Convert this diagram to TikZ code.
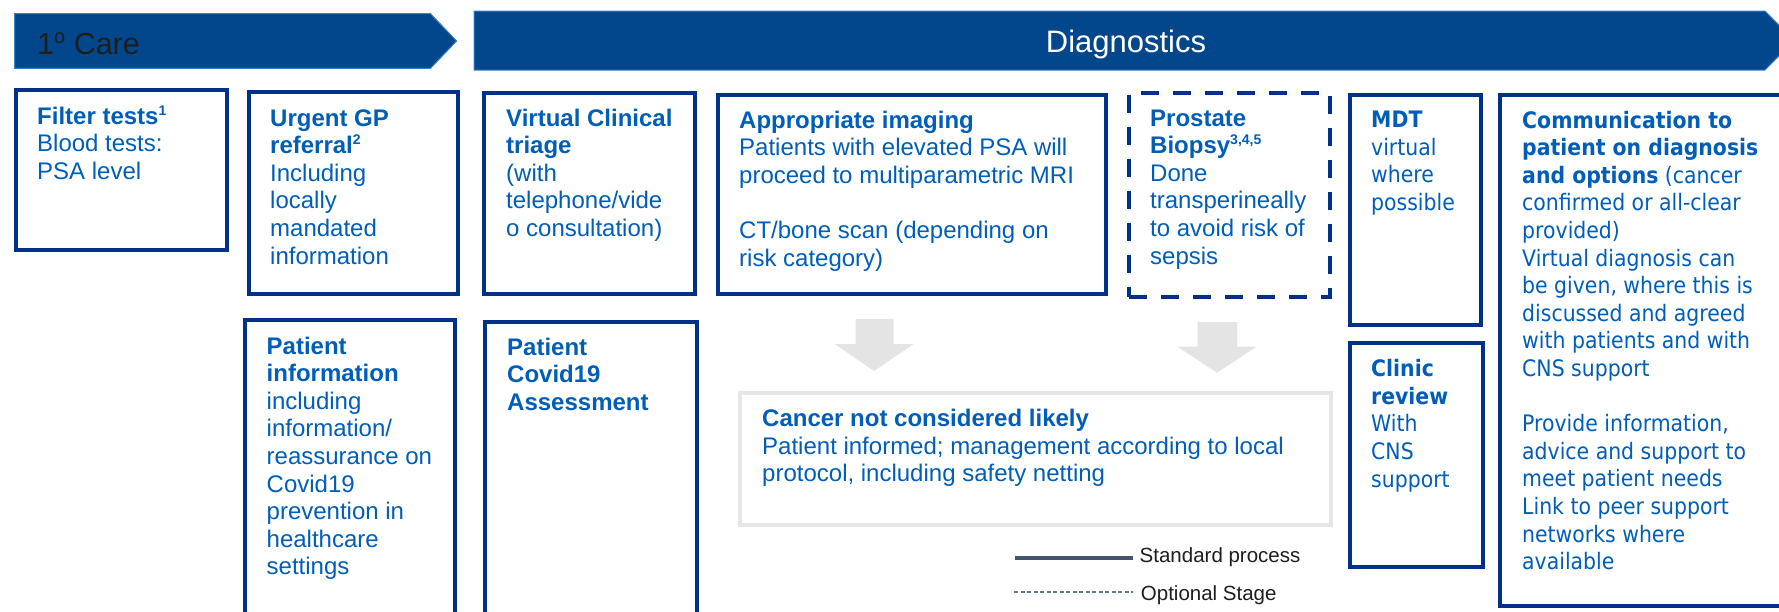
\documentclass[tikz,border=0pt]{standalone}
\usepackage{fontspec}
\setmainfont{Liberation Sans}
\newfontfamily\tah[FakeStretch=0.9]{DejaVu Sans}
\usetikzlibrary{fit}
\definecolor{banner}{HTML}{02478B}
\definecolor{bannerline}{HTML}{3C7DC9}
\definecolor{navy}{HTML}{003087}
\definecolor{nhsblue}{HTML}{005EB8}
\definecolor{grayarrow}{HTML}{E4E4E4}
\definecolor{grayline}{HTML}{E6E6E6}
\definecolor{legendline}{HTML}{44546A}
\definecolor{darktext}{HTML}{1E1E1E}
\newcommand{\tl}[1]{\begin{tabular}[t]{@{}l@{}}#1\end{tabular}}
\newcommand{\sups}[1]{\smash{\raisebox{9pt}{\fontsize{14}{14}\selectfont #1}}}
\begin{document}
\begin{tikzpicture}[x=1pt,y=-1pt,
  bannerbox/.style={fill=banner, draw=bannerline, line width=1pt},
  box/.style={draw=navy, line width=4.2pt, fill=white, inner sep=0pt},
  dbox/.style={box, dash pattern=on 18pt off 14pt},
  graybox/.style={draw=grayline, line width=4pt, fill=white, inner sep=0pt},
  txt/.style={inner sep=0pt, anchor=base west, text=nhsblue, font=\fontsize{24}{27.6}\selectfont},
  tahtxt/.style={txt, font=\tah\fontsize{22.7}{27.6}\selectfont},
  legtxt/.style={inner sep=0pt, anchor=base west, text=darktext, font=\fontsize{20.5}{24}\selectfont},
  grayarr/.style={fill=grayarrow},
  legsolid/.style={draw=legendline, line width=3.3pt},
  legdash/.style={draw=legendline!80, line width=1.1pt, dash pattern=on 4pt off 2.5pt}
]
\clip (0,0) rectangle (1779,611);
\fill[white] (0,0) rectangle (1779,611);

% banners
\path[bannerbox] (14.5,13.7) -- (430.5,13.7) -- (456.6,41) -- (430.5,68.3) -- (14.5,68.3) -- cycle;
\path[bannerbox] (474,11) -- (1765,11) -- (1794,40.5) -- (1765,70) -- (474,70) -- cycle;
\node[inner sep=0pt, anchor=base west, text=darktext, font=\fontsize{30.5}{32}\selectfont] (caret) at (37,54)
  {1\raisebox{10.5pt}{\fontsize{20}{20}\selectfont o} Care};
\node[inner sep=0pt, anchor=base, text=white, font=\fontsize{31}{32}\selectfont] (diagt) at (1126,52) {Diagnostics};

% boxes
\node[box, fit={(16,90)(227,250)}] (filt) {};
\node[box, fit={(249,92)(458,294)}] (urg) {};
\node[box, fit={(245,320)(455,640)}] (pinfo) {};
\node[box, fit={(484,93)(695,294)}] (virt) {};
\node[box, fit={(485,322)(697,640)}] (pcov) {};
\node[box, fit={(718,95)(1106,294)}] (img) {};
\node[dbox, fit={(1129,93)(1330,297)}] (biop) {};
\node[box, fit={(1350,95)(1481,325)}] (mdt) {};
\node[box, fit={(1350,343)(1483,567)}] (clin) {};
\node[box, fit={(1500,95)(1820,606)}] (comm) {};
\node[graybox, fit={(740,393)(1331,525)}] (canc) {};

% gray block arrows
\fill[grayarr] (855.5,319) -- (893.6,319) -- (893.6,344) -- (913.5,344) -- (874,371) -- (834.7,344) -- (855.5,344) -- cycle;
\fill[grayarr] (1197.5,322) -- (1237,322) -- (1237,346.7) -- (1256.4,346.7) -- (1217,372.7) -- (1177.6,346.7) -- (1197.5,346.7) -- cycle;

% texts
\node[txt] (filtt) at (37,124) {\tl{\textbf{Filter tests\sups{1}}\\Blood tests:\\PSA level}};
\node[txt] (urgt) at (270,126) {\tl{\textbf{Urgent GP}\\\textbf{referral\sups{2}}\\Including\\locally\\mandated\\information}};
\node[txt] (pinfot) at (266.5,354) {\tl{\textbf{Patient}\\\textbf{information}\\including\\information/\\reassurance on\\Covid19\\prevention in\\healthcare\\settings}};
\node[txt] (virtt) at (506,126) {\tl{\textbf{Virtual Clinical}\\\textbf{triage}\\(with\\telephone/vide\\o consultation)}};
\node[txt] (pcovt) at (507,355) {\tl{\textbf{Patient}\\\textbf{Covid19}\\\textbf{Assessment}}};
\node[txt] (imgt) at (739,128) {\tl{\textbf{Appropriate imaging}\\Patients with elevated PSA will\\proceed to multiparametric MRI\\ \\CT/bone scan (depending on\\risk category)}};
\node[txt] (biopt) at (1150,126) {\tl{\textbf{Prostate}\\\textbf{Biopsy\sups{3,4,5}}\\Done\\transperineally\\to avoid risk of\\sepsis}};
\node[txt] (canct) at (762,426.7) {\tl{\textbf{Cancer not considered likely}\\Patient informed; management according to local\\protocol, including safety netting}};
\node[tahtxt] (mdtt) at (1371,127.7) {\tl{\textbf{MDT}\\virtual\\where\\possible}};
\node[tahtxt] (clint) at (1371,376.7) {\tl{\textbf{Clinic}\\\textbf{review}\\With\\CNS\\support}};
\node[tahtxt] (commt) at (1522,128) {\tl{\textbf{Communication to}\\\textbf{patient on diagnosis}\\\textbf{and options} (cancer\\confirmed or all-clear\\provided)\\Virtual diagnosis can\\be given, where this is\\discussed and agreed\\with patients and with\\CNS support\\ \\Provide information,\\advice and support to\\meet patient needs\\Link to peer support\\networks where\\available}};

% legend
\coordinate (ls1) at (1015,558);
\coordinate (ls2) at (1133,558);
\coordinate (ld1) at (1014,592);
\coordinate (ld2) at (1133,592);
\draw[legsolid] (ls1) -- (ls2);
\draw[legdash] (ld1) -- (ld2);
\node[legtxt] (legs) at (1139.5,562) {Standard process};
\node[legtxt] (legd) at (1140.7,600) {Optional Stage};
\end{tikzpicture}
\end{document}
